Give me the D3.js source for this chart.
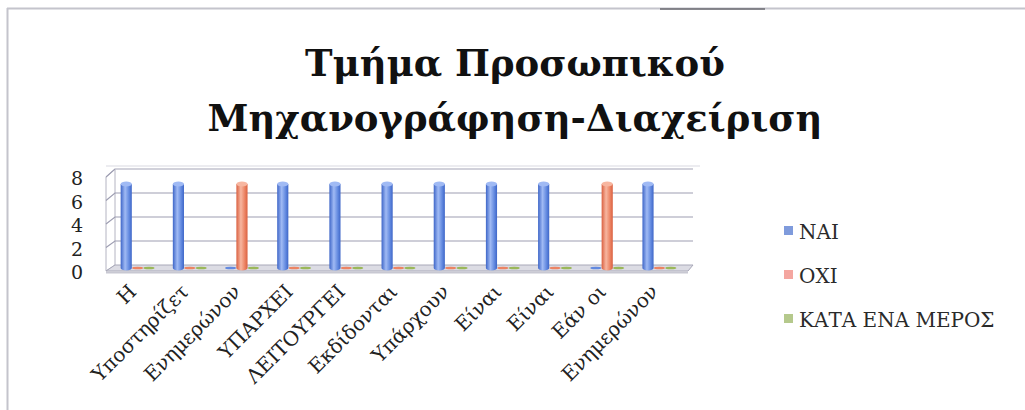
<!DOCTYPE html>
<html>
<head>
<meta charset="utf-8">
<script src="https://cdn.jsdelivr.net/npm/d3@7"></script>
<style>
  html, body { margin: 0; padding: 0; background: #ffffff; }
  svg { display: block; }
</style>
</head>
<body>
<svg id="chart" width="1025" height="410"></svg>
<script>
// Chart content
const titleLines = ["Τμήμα Προσωπικού", "Μηχανογράφηση-Διαχείριση"];
const categories = ["Η", "Υποστηρίζετ", "Ενημερώνον", "ΥΠΑΡΧΕΙ", "ΛΕΙΤΟΥΡΓΕΙ",
                    "Εκδίδονται", "Υπάρχουν", "Είναι", "Είναι", "Εάν οι", "Ενημερώνον"];
const seriesNames = ["ΝΑΙ", "ΟΧΙ", "ΚΑΤΑ ΕΝΑ ΜΕΡΟΣ"];
const naiValues  = [7, 7, 0, 7, 7, 7, 7, 7, 7, 0, 7];
const oxiValues  = [0, 0, 7, 0, 0, 0, 0, 0, 0, 7, 0];
const kataValues = [0, 0, 0, 0, 0, 0, 0, 0, 0, 0, 0];
const yTicks = [0, 2, 4, 6, 8];

const seriesValues = [naiValues, oxiValues, kataValues];
const seriesColors = [
  { dark: "#3e66c8", mid: "#638ae0", light: "#a0baf4", key: "#7f9bdc" },
  { dark: "#da6040", mid: "#ec8464", light: "#f7b6a0", key: "#f4a6a0" },
  { dark: "#7e9a3e", mid: "#9bb85a", light: "#c6da98", key: "#b5c98c" }
];

const svg = d3.select("#chart");
const defs = svg.append("defs");

// cylinder gradients
seriesColors.forEach((c, i) => {
  const g = defs.append("linearGradient").attr("id", "cyl" + i)
    .attr("x1", "0%").attr("x2", "100%").attr("y1", "0%").attr("y2", "0%");
  g.append("stop").attr("offset", "0%").attr("stop-color", c.dark);
  g.append("stop").attr("offset", "40%").attr("stop-color", c.light);
  g.append("stop").attr("offset", "75%").attr("stop-color", c.mid);
  g.append("stop").attr("offset", "100%").attr("stop-color", c.dark);
});

// frame
svg.append("line").attr("x1", 7).attr("x2", 1025).attr("y1", 8.5).attr("y2", 8.5)
  .attr("stroke", "#c4c4cc").attr("stroke-width", 2);
svg.append("line").attr("x1", 7.5).attr("x2", 7.5).attr("y1", 8).attr("y2", 410)
  .attr("stroke", "#c4c4cc").attr("stroke-width", 2);
svg.append("line").attr("x1", 660).attr("x2", 765).attr("y1", 9).attr("y2", 9)
  .attr("stroke", "#6a6a70").attr("stroke-width", 1.5);

// title
const title = svg.append("text")
  .attr("text-anchor", "middle")
  .attr("font-family", "'DejaVu Serif', serif")
  .attr("font-weight", "bold")
  .attr("font-size", 37)
  .attr("fill", "#111");
titleLines.forEach((t, i) => {
  title.append("tspan").attr("x", 515).attr("y", 76 + i * 55).text(t);
});

// scales
const yBack  = d3.scaleLinear().domain([0, 8]).range([265, 169]);
const yFront = d3.scaleLinear().domain([0, 8]).range([271, 177]);
const yBar   = d3.scaleLinear().domain([0, 8]).range([268, 172]);

const x = d3.scaleBand().domain(d3.range(categories.length))
  .range([105, 692]).paddingInner(0.35).paddingOuter(0.3);
const xs = d3.scaleBand().domain(d3.range(seriesNames.length))
  .range([0, x.bandwidth()]).paddingInner(0.02);

const wallL = 115, wallR = 693, frontL = 106, frontR = 688;

// faint plot-area edge
svg.append("line").attr("x1", frontL).attr("x2", 700).attr("y1", 166).attr("y2", 166)
  .attr("stroke", "#ececf0").attr("stroke-width", 2);

// back wall
svg.append("rect").attr("x", wallL).attr("y", yBack(8))
  .attr("width", wallR - wallL).attr("height", yBack(0) - yBack(8))
  .attr("fill", "#ffffff");

// left wall
svg.append("path")
  .attr("d", `M${frontL},${yFront(0)} L${frontL},${yFront(8)} L${wallL},${yBack(8)} L${wallL},${yBack(0)} Z`)
  .attr("fill", "#ffffff").attr("stroke", "#b4b4c2").attr("stroke-width", 1);

// gridlines
const grid = svg.append("g").attr("stroke", "#9e9eb2").attr("stroke-width", 1.2).attr("fill", "none");
yTicks.filter(v => v > 0).forEach(v => {
  grid.append("path")
    .attr("d", `M${frontL},${yFront(v)} L${wallL},${yBack(v)} L${wallR},${yBack(v)}`);
});
svg.append("line").attr("x1", wallL).attr("x2", wallR)
  .attr("y1", yBack(8)).attr("y2", yBack(8))
  .attr("stroke", "#d4d4dc").attr("stroke-width", 1);

// floor
svg.append("path")
  .attr("d", `M${frontL},${yFront(0)} L${frontR},${yFront(0)} L${wallR},${yBack(0)} L${wallL},${yBack(0)} Z`)
  .attr("fill", "#dcdce4").attr("stroke", "#a8a8b8").attr("stroke-width", 1);
svg.append("line").attr("x1", frontL).attr("x2", frontR)
  .attr("y1", yFront(0) + 1.5).attr("y2", yFront(0) + 1.5)
  .attr("stroke", "#c8c8d2").attr("stroke-width", 2);

// y axis labels
svg.append("g")
  .selectAll("text").data(yTicks).join("text")
  .attr("x", 83).attr("y", d => yFront(d) + 1)
  .attr("text-anchor", "end")
  .attr("dominant-baseline", "central")
  .attr("font-family", "'DejaVu Serif', serif")
  .attr("font-size", 19)
  .attr("fill", "#222")
  .text(d => d);

// bars (cylinders)
const bars = svg.append("g");
const ry = 2.5;
categories.forEach((cat, ci) => {
  seriesValues.forEach((vals, si) => {
    const v = vals[ci];
    const x0 = x(ci) + xs(si);
    const w = xs.bandwidth();
    const cx = x0 + w / 2;
    const bottom = yBar(0);
    if (v > 0) {
      const top = yBar(v);
      bars.append("path")
        .attr("d", `M${x0},${top} L${x0},${bottom} A${w / 2},${ry} 0 0 0 ${x0 + w},${bottom} L${x0 + w},${top} Z`)
        .attr("fill", `url(#cyl${si})`);
      bars.append("ellipse")
        .attr("cx", cx).attr("cy", top).attr("rx", w / 2).attr("ry", ry)
        .attr("fill", seriesColors[si].light);
    } else {
      bars.append("ellipse")
        .attr("cx", cx).attr("cy", bottom).attr("rx", w / 2).attr("ry", 1.3)
        .attr("fill", seriesColors[si].mid);
    }
  });
});

// category labels
svg.append("g")
  .selectAll("text").data(categories).join("text")
  .attr("transform", (d, i) => `translate(${x(i) + x.bandwidth() / 2},${293}) rotate(-45)`)
  .attr("text-anchor", "end")
  .attr("font-family", "'DejaVu Serif', serif")
  .attr("font-size", 20)
  .attr("fill", "#222")
  .text(d => d);

// legend
const legend = svg.append("g");
seriesNames.forEach((name, i) => {
  const cy = 231 + i * 44;
  legend.append("rect").attr("x", 784).attr("y", cy - 5).attr("width", 9).attr("height", 9)
    .attr("fill", seriesColors[i].key);
  legend.append("text").attr("x", 799).attr("y", cy + 1).attr("dominant-baseline", "central")
    .attr("font-family", "'DejaVu Serif', serif")
    .attr("font-size", 20)
    .attr("fill", "#2a2a2a")
    .text(name);
});
</script>
</body>
</html>
